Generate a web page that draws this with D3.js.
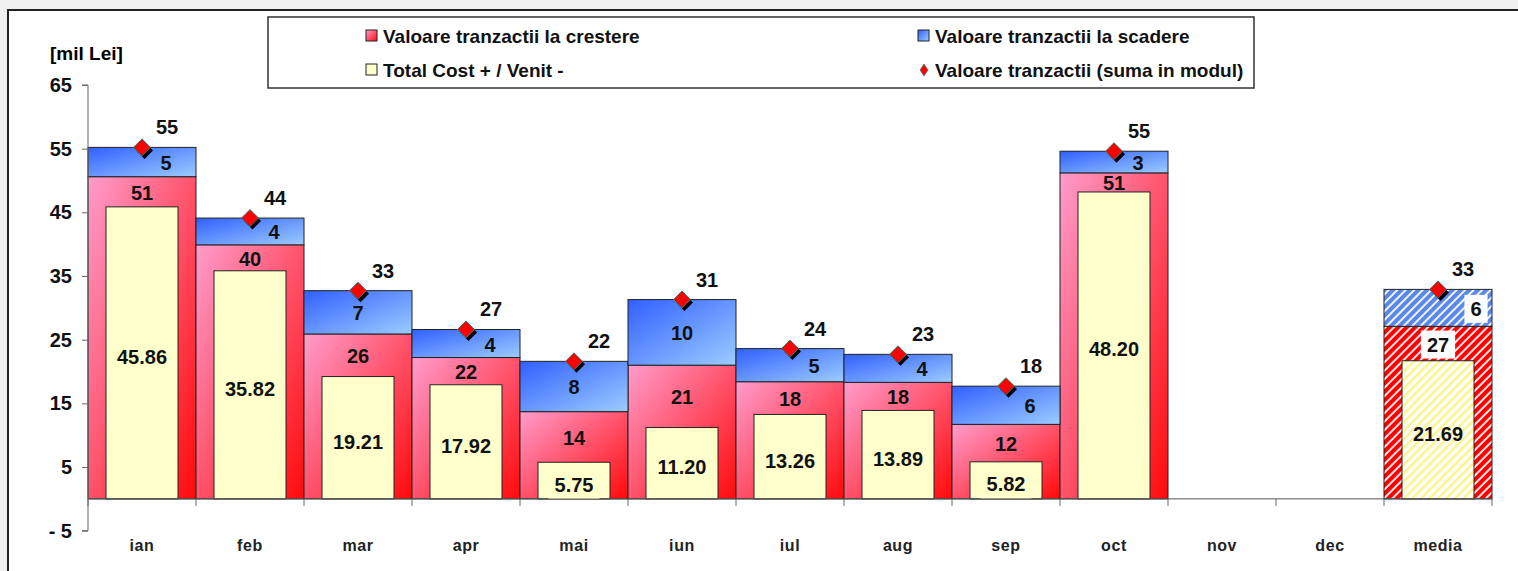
<!DOCTYPE html>
<html>
<head>
<meta charset="utf-8">
<script src="https://cdn.jsdelivr.net/npm/d3@7"></script>
<style>
  html, body { margin: 0; padding: 0; background: #f1f1f1; }
  svg { display: block; font-family: "Liberation Sans", Arial, sans-serif; font-weight: bold; }
</style>
</head>
<body>
<svg id="svg" width="1518" height="571"></svg>
<script>
// DATA
const months = ["ian", "feb", "mar", "apr", "mai", "iun", "iul", "aug", "sep", "oct", "nov", "dec", "media"];
const crestere = [50.6, 39.9, 25.9, 22.2, 13.7, 21.0, 18.4, 18.3, 11.7, 51.2, null, null, 27.1];
const scadere = [4.6, 4.2, 6.8, 4.4, 7.9, 10.3, 5.2, 4.4, 6.0, 3.4, null, null, 5.8];
const totalCost = [45.86, 35.82, 19.21, 17.92, 5.75, 11.20, 13.26, 13.89, 5.82, 48.20, null, null, 21.69];
const yTicks = [-5, 5, 15, 25, 35, 45, 55, 65];
const legendLabels = [
  "Valoare tranzactii la crestere",
  "Valoare tranzactii la scadere",
  "Total Cost + / Venit -",
  "Valoare tranzactii (suma in modul)"
];

const rows = months.map((m, i) => ({
  month: m,
  up: crestere[i],
  down: scadere[i],
  total: totalCost[i],
  avg: m === "media"
}));

// VARIABLES
const svg = d3.select("#svg");
const x = d3.scaleBand().domain(months).range([88, 1492]).padding(0);
const y = d3.scaleLinear().domain([-5, 65]).range([530.7, 85]);
const fmt0 = d3.format(".0f");
const fmt2 = d3.format(".2f");

// frame
svg.append("rect")
  .attr("x", 8).attr("y", 10).attr("width", 1530).attr("height", 580)
  .attr("fill", "#fff").attr("stroke", "#222").attr("stroke-width", 2);

// gradients + patterns
const defs = svg.append("defs");
function grad(id, c1, c2) {
  const g = defs.append("linearGradient").attr("id", id)
    .attr("x1", 0).attr("y1", 0).attr("x2", 1).attr("y2", 1);
  g.append("stop").attr("offset", "0%").attr("stop-color", c1);
  g.append("stop").attr("offset", "100%").attr("stop-color", c2);
}
grad("gRed", "#ff9ccc", "#ff0a0a");
grad("gBlue", "#3060ff", "#9cccff");

function hatch(id, bg, fg, w) {
  const p = defs.append("pattern").attr("id", id)
    .attr("patternUnits", "userSpaceOnUse")
    .attr("width", 6).attr("height", 6)
    .attr("patternTransform", "rotate(45)");
  p.append("rect").attr("width", 6).attr("height", 6).attr("fill", bg);
  p.append("rect").attr("width", w).attr("height", 6).attr("fill", fg);
}
hatch("hRed", "#fff", "#ff0000", 4.2);
hatch("hBlue", "#fff", "#5a88e8", 4.2);
hatch("hYellow", "#fff", "#fbf58a", 2.5);

// stacked bars
const stacked = d3.stack().keys(["up", "down"]).value((d, k) => d[k] || 0)(rows);

const bars = svg.append("g");
bars.selectAll("rect.up")
  .data(stacked[0].filter(d => d.data.up != null))
  .join("rect")
  .attr("x", d => x(d.data.month))
  .attr("width", x.bandwidth())
  .attr("y", d => y(d[1]))
  .attr("height", d => y(d[0]) - y(d[1]))
  .attr("fill", d => d.data.avg ? "url(#hRed)" : "url(#gRed)")
  .attr("stroke", "#222").attr("stroke-width", 1);

bars.selectAll("rect.down")
  .data(stacked[1].filter(d => d.data.down != null))
  .join("rect")
  .attr("x", d => x(d.data.month))
  .attr("width", x.bandwidth())
  .attr("y", d => y(d[1]))
  .attr("height", d => y(d[0]) - y(d[1]))
  .attr("fill", d => d.data.avg ? "url(#hBlue)" : "url(#gBlue)")
  .attr("stroke", "#222").attr("stroke-width", 1);

// total cost bars (narrower, in front)
const yw = x.bandwidth() * 2 / 3;
bars.selectAll("rect.tot")
  .data(rows.filter(d => d.total != null))
  .join("rect")
  .attr("x", d => x(d.month) + (x.bandwidth() - yw) / 2)
  .attr("width", yw)
  .attr("y", d => y(d.total))
  .attr("height", d => y(0) - y(d.total))
  .attr("fill", d => d.avg ? "url(#hYellow)" : "#ffffcc")
  .attr("stroke", "#222").attr("stroke-width", 1);

// axes
const yAxis = svg.append("g").attr("transform", "translate(88,0)")
  .call(d3.axisLeft(y).tickValues(yTicks).tickSize(6).tickPadding(10)
    .tickFormat(d => d < 0 ? "- " + Math.abs(d) : d));
yAxis.select(".domain").attr("stroke", "#666").attr("d", `M-6,${y(-5)}H0V${y(65)}H-6`);
yAxis.selectAll(".tick line").attr("stroke", "#666");
yAxis.selectAll(".tick text").attr("font-size", 20).attr("fill", "#111")
  .attr("font-family", "Liberation Sans, Arial").attr("font-weight", "bold");

const xg = svg.append("g");
xg.append("line")
  .attr("x1", 88).attr("x2", 1492).attr("y1", y(0)).attr("y2", y(0))
  .attr("stroke", "#555");
xg.selectAll("line.tk")
  .data(months.map(m => x(m)).concat([x.range()[1]]))
  .join("line")
  .attr("x1", d => d).attr("x2", d => d)
  .attr("y1", y(0)).attr("y2", y(0) + 7)
  .attr("stroke", "#666");
xg.selectAll("text")
  .data(months)
  .join("text")
  .attr("x", d => x(d) + x.bandwidth() / 2)
  .attr("y", 551)
  .attr("text-anchor", "middle")
  .attr("font-size", 16)
  .attr("letter-spacing", 0.6)
  .attr("fill", "#222")
  .text(d => d);

svg.append("text").attr("x", 50).attr("y", 60).attr("font-size", 19).text("[mil Lei]");

// labels
const labels = svg.append("g").attr("text-anchor", "middle").attr("font-size", 20).attr("fill", "#111");

function label(g, tx, ty, txt, bg) {
  const t = g.append("text").attr("x", tx).attr("y", ty).attr("dy", "0.35em").text(txt);
  if (bg) {
    const b = t.node().getBBox();
    g.insert("rect", () => t.node())
      .attr("x", b.x - 6).attr("y", b.y - 3)
      .attr("width", b.width + 12).attr("height", b.height + 6)
      .attr("fill", bg);
  }
}

rows.filter(d => d.up != null).forEach(d => {
  const cx = x(d.month) + x.bandwidth() / 2;
  const sum = d.up + d.down;
  // total cost
  const hT = y(0) - y(d.total);
  label(labels, cx, (y(0) + y(d.total)) / 2 + 4, fmt2(d.total), hT < 40 ? "#ffffcc" : null);
  // crestere
  label(labels, cx, (y(d.up) + y(d.total)) / 2 + 1, fmt0(d.up), d.avg ? "#fff" : null);
  // scadere
  const hB = y(d.up) - y(sum);
  const dx = hB < 40 ? (d.avg ? 38 : 24) : 0;
  label(labels, cx + dx, (y(d.up) + y(sum)) / 2 + 1, fmt0(d.down), d.avg ? "#fff" : null);
  // sum
  label(labels, cx + 25, y(sum) - 20, fmt0(sum), null);
});

// diamonds
const diamond = s => `M0,${-s}L${s},0L0,${s}L${-s},0Z`;
const dm = svg.append("g").selectAll("g")
  .data(rows.filter(d => d.up != null))
  .join("g")
  .attr("transform", d => `translate(${x(d.month) + x.bandwidth() / 2},${y(d.up + d.down)})`);
dm.append("path").attr("d", diamond(8.5)).attr("transform", "translate(2.5,3)").attr("fill", "#000");
dm.append("path").attr("d", diamond(8.5)).attr("fill", "#ff0000").attr("stroke", "#2a7f7a").attr("stroke-width", 1);

// legend
const lg = svg.append("g");
lg.append("rect").attr("x", 268).attr("y", 17).attr("width", 986).attr("height", 71)
  .attr("fill", "#fff").attr("stroke", "#333").attr("stroke-width", 1.5);
const legItems = [
  { label: legendLabels[0], x: 372, y: 36, fill: "url(#gRed)", type: "sq" },
  { label: legendLabels[1], x: 924, y: 36, fill: "url(#gBlue)", type: "sq" },
  { label: legendLabels[2], x: 372, y: 70, fill: "#ffffcc", type: "sq" },
  { label: legendLabels[3], x: 924, y: 70, fill: "#ff0000", type: "dm" }
];
legItems.forEach(it => {
  if (it.type === "sq") {
    lg.append("rect").attr("x", it.x - 6).attr("y", it.y - 6).attr("width", 11).attr("height", 11)
      .attr("fill", it.fill).attr("stroke", "#222").attr("stroke-width", 1);
  } else {
    lg.append("path").attr("d", `M0,-6L4,0L0,6L-4,0Z`).attr("transform", `translate(${it.x},${it.y})`)
      .attr("fill", it.fill).attr("stroke", "#2a7f7a").attr("stroke-width", 0.7);
  }
  lg.append("text").attr("x", it.x + 11).attr("y", it.y).attr("dy", "0.35em")
    .attr("font-size", 19).attr("fill", "#111").text(it.label);
});
</script>
</body>
</html>
